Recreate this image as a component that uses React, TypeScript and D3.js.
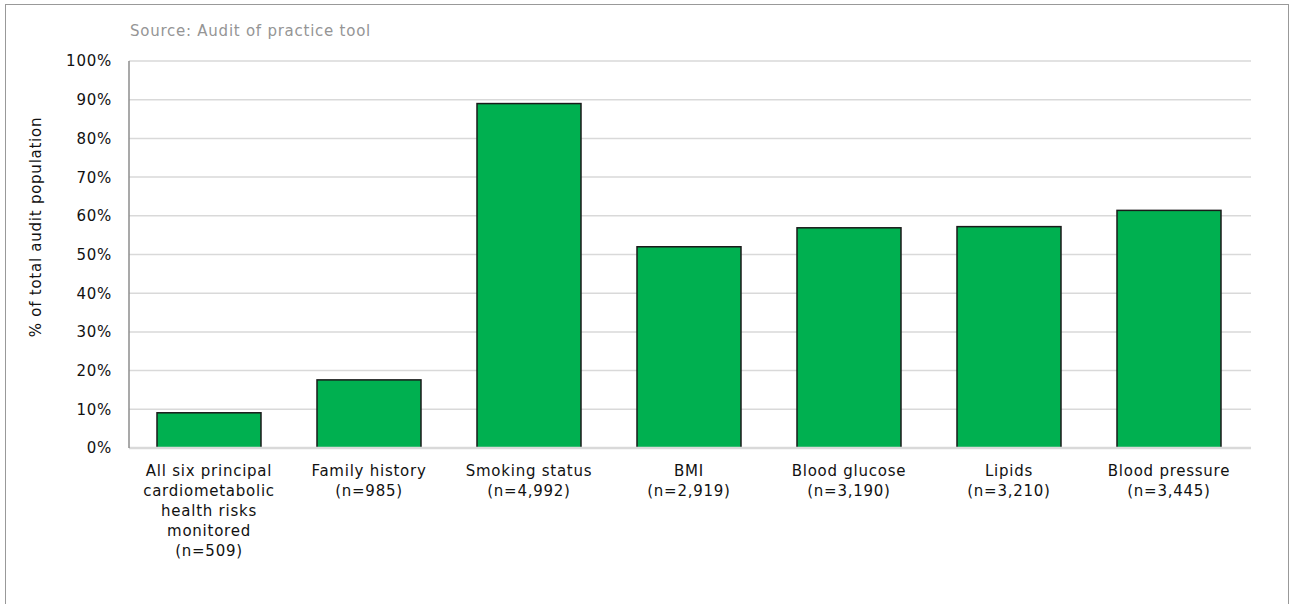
import React from "react";
import * as d3 from "d3";

const categories: string[][] = [
  ["All six principal", "cardiometabolic", "health risks", "monitored", "(n=509)"],
  ["Family history", "(n=985)"],
  ["Smoking status", "(n=4,992)"],
  ["BMI", "(n=2,919)"],
  ["Blood glucose", "(n=3,190)"],
  ["Lipids", "(n=3,210)"],
  ["Blood pressure", "(n=3,445)"],
];
const values: number[] = [9.1, 17.6, 89, 52, 56.9, 57.2, 61.4];
const yTicks: number[] = [0, 10, 20, 30, 40, 50, 60, 70, 80, 90, 100];
const sourceText = "Source: Audit of practice tool";
const yTitle = "% of total audit population";

const W = 1295;
const H = 604;
const left = 129;
const right = 1249;
const top = 61;
const bottom = 448;
const font = "'DejaVu Sans', Verdana, sans-serif";
const fs = 15;
const ls = 0.75;

export default function App() {
  const keys = categories.map((_, i) => String(i));
  const x = d3.scaleBand<string>().domain(keys).range([left, right]).paddingInner(0.35).paddingOuter(0.175);
  const y = d3.scaleLinear().domain([0, 100]).range([bottom, top]);

  return (
    <svg width={W} height={H} style={{ position: "absolute", left: 0, top: 0, background: "#fff" }}>
      <rect x={5.5} y={4.5} width={1283} height={H + 10} fill="#fff" stroke="#999" strokeWidth={1} />
      <text x={130} y={36} fontFamily={font} fontSize={fs} letterSpacing={ls} fill="#959595">{sourceText}</text>
      {yTicks.filter((t) => t > 0).map((t) => (
        <line key={t} x1={left} x2={right + 2} y1={y(t)} y2={y(t)} stroke="#d9d9d9" strokeWidth={1.5} />
      ))}
      {values.map((v, i) => (
        <rect key={i} x={x(String(i))} y={y(v)} width={x.bandwidth()} height={y(0) - y(v)} fill="#00b050" stroke="#1a1a1a" strokeWidth={1.5} />
      ))}
      <line x1={left} x2={right + 2} y1={y(0)} y2={y(0)} stroke="#d9d9d9" strokeWidth={2.5} />
      <line x1={left} x2={left} y1={y(100)} y2={y(0)} stroke="#8c8c8c" strokeWidth={1.5} />
      {yTicks.map((t) => (
        <text key={t} x={112} y={y(t)} dy="0.36em" textAnchor="end" fontFamily={font} fontSize={fs} letterSpacing={ls} fill="#111">{`${t}%`}</text>
      ))}
      <text transform={`translate(41,227) rotate(-90)`} textAnchor="middle" fontFamily={font} fontSize={fs} letterSpacing={ls} fill="#111">{yTitle}</text>
      {categories.map((lines, i) => (
        <text key={i} textAnchor="middle" fontFamily={font} fontSize={fs} letterSpacing={ls} fill="#111">
          {lines.map((l, j) => (
            <tspan key={j} x={(x(String(i)) as number) + x.bandwidth() / 2} y={476 + j * 20}>{l}</tspan>
          ))}
        </text>
      ))}
    </svg>
  );
}
